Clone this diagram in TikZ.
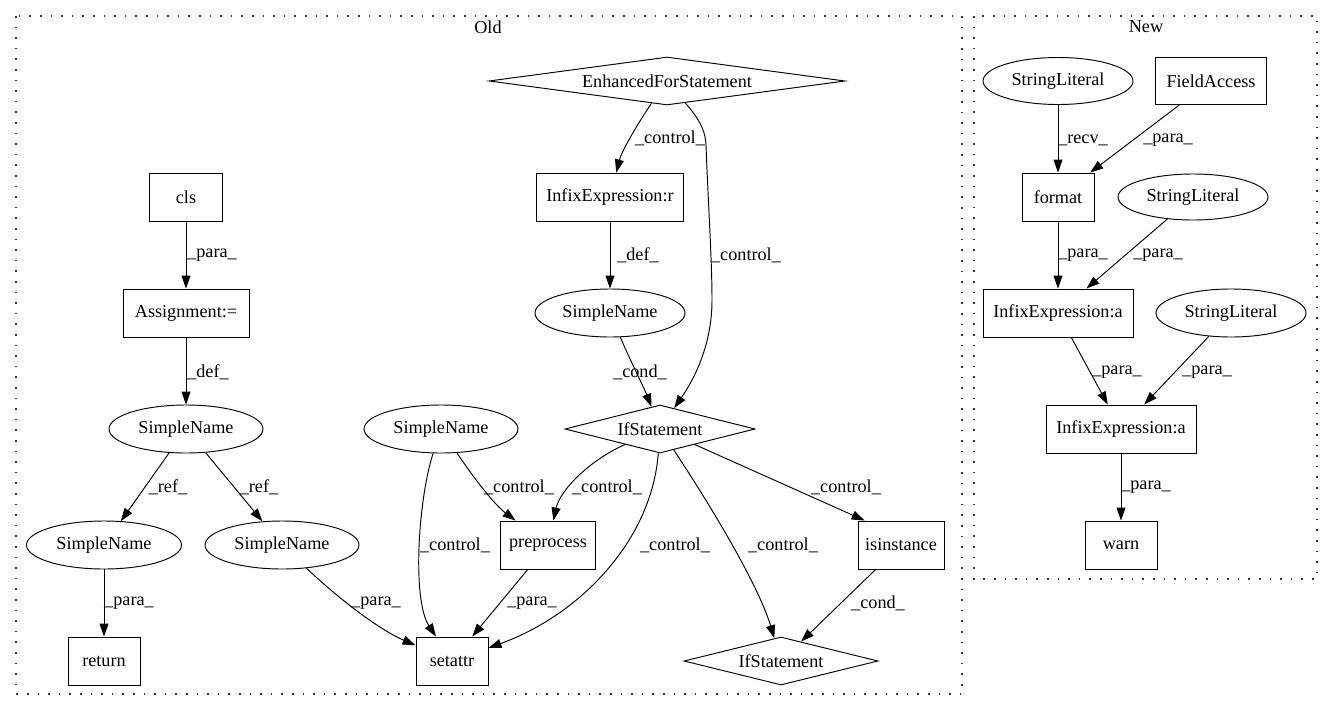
\documentclass[tikz,border=0pt]{standalone}
\usepackage{fontspec}
\setmainfont{Liberation Serif}
\usetikzlibrary{shapes.geometric,arrows.meta}
\begin{document}
\begin{tikzpicture}[x=1pt,y=-1pt,
  every node/.style={font=\fontsize{18.2}{20}\selectfont},
  box/.style={draw, line width=0.95pt, rectangle, minimum height=48pt, inner sep=0pt},
  ell/.style={draw, line width=0.95pt, ellipse, minimum height=48pt, inner sep=0pt},
  dia/.style={draw, line width=0.95pt, diamond, minimum height=48pt, inner sep=0pt},
  lbl/.style={inner sep=0pt},
  edge/.style={draw, line width=0.95pt, -{Triangle[length=13pt,width=9pt]}},
  cluster/.style={draw=black!80, line width=1.6pt, dash pattern=on 1.6pt off 9pt}
]
\useasboundingbox (0,0) rectangle (1333,712);

% clusters
\draw[cluster] (16,16) rectangle (962,694);
\node[lbl] (oldlbl) at (488,27) {Old};
\draw[cluster] (974,16) rectangle (1317,579);
\node[lbl] (newlbl) at (1146,27) {New};

% Old nodes
\node[dia, aspect=7.4, minimum width=356pt] (efs) at (667,81) {EnhancedForStatement};
\node[box, minimum width=147pt] (infr) at (610,197) {InfixExpression:r};
\node[ell, minimum width=150pt] (snm) at (610,313) {SimpleName};
\node[dia, aspect=4, minimum width=190pt] (ifs) at (660,429) {IfStatement};
\node[ell, minimum width=154pt] (snc2) at (441,429) {SimpleName};
\node[box, minimum width=95pt] (pre) at (548,545) {preprocess};
\node[box, minimum width=72pt] (set) at (452,661) {setattr};
\node[dia, aspect=4, minimum width=194pt] (ifs2) at (781,661) {IfStatement};
\node[box, minimum width=86pt] (isi) at (901,545) {isinstance};
\node[box, minimum width=73pt] (cls) at (186,197) {cls};
\node[box, minimum width=126pt] (asg) at (186,313) {Assignment:=};
\node[ell, minimum width=154pt] (sna) at (186,429) {SimpleName};
\node[ell, minimum width=155pt] (snb) at (104,545) {SimpleName};
\node[ell, minimum width=154pt] (snc) at (282,545) {SimpleName};
\node[box, minimum width=72pt] (ret) at (104,661) {return};

% New nodes
\node[ell, minimum width=150pt, minimum height=47pt] (sl1) at (1058,81) {StringLiteral};
\node[box, minimum width=111pt, minimum height=47pt] (fa) at (1211,81) {FieldAccess};
\node[box, minimum width=72pt] (fmt) at (1058,197) {format};
\node[ell, minimum width=150pt, minimum height=46pt] (sl2) at (1193,197) {StringLiteral};
\node[box, minimum width=150pt] (ia1) at (1058,313) {InfixExpression:a};
\node[ell, minimum width=150pt] (sl3) at (1231,313) {StringLiteral};
\node[box, minimum width=150pt] (ia2) at (1121,429) {InfixExpression:a};
\node[box, minimum width=72pt] (warn) at (1121,545) {warn};

% Old edges
\path[edge] (efs) .. controls (640,120) and (622,150) .. (infr);
\node[lbl] (l1) at (670,138) {\_control\_};
\path[edge] (efs) .. controls (698,118) and (705,128) .. (706,145) .. controls (708,200) and (712,260) .. (712,300) .. controls (712,350) and (690,385) .. (ifs);
\node[lbl] (l2) at (746,255) {\_control\_};
\path[edge] (infr) -- (snm);
\node[lbl] (l3) at (638,255) {\_def\_};
\path[edge] (snm) .. controls (630,360) and (645,390) .. (ifs);
\node[lbl] (l4) at (640,372) {\_cond\_};
\path[edge] (ifs) .. controls (590,460) and (560,490) .. (pre);
\node[lbl] (l5) at (607,487) {\_control\_};
\path[edge] (snc2) .. controls (475,480) and (495,505) .. (pre);
\node[lbl] (l6) at (519,487) {\_control\_};
\path[edge] (snc2) .. controls (418,500) and (412,600) .. (set);
\node[lbl] (l7) at (455,545) {\_control\_};
\path[edge] (pre) -- (set);
\node[lbl] (l8) at (532,603) {\_para\_};
\path[edge] (ifs) .. controls (652,540) and (580,615) .. (set);
\node[lbl] (l9) at (675,545) {\_control\_};
\path[edge] (ifs) .. controls (720,520) and (760,590) .. (ifs2);
\node[lbl] (l10) at (783,545) {\_control\_};
\path[edge] (ifs) -- (isi.146);
\node[lbl] (l11) at (846,487) {\_control\_};
\path[edge] (isi) -- (ifs2);
\node[lbl] (l12) at (878,603) {\_cond\_};
\path[edge] (snc) .. controls (340,600) and (380,630) .. (set);
\node[lbl] (l13) at (376,603) {\_para\_};
\path[edge] (cls) -- (asg);
\node[lbl] (l14) at (212,255) {\_para\_};
\path[edge] (asg) -- (sna);
\node[lbl] (l15) at (208,372) {\_def\_};
\path[edge] (sna) -- (snb);
\node[lbl] (l16) at (168,487) {\_ref\_};
\path[edge] (sna) -- (snc);
\node[lbl] (l17) at (259,487) {\_ref\_};
\path[edge] (snb) -- (ret);
\node[lbl] (l18) at (129,603) {\_para\_};

% New edges
\path[edge] (sl1) -- (fmt);
\node[lbl] (l19) at (1083,140) {\_recv\_};
\path[edge] (fa) -- (fmt);
\node[lbl] (l20) at (1168,140) {\_para\_};
\path[edge] (fmt) -- (ia1);
\node[lbl] (l21) at (1083,255) {\_para\_};
\path[edge] (sl2) -- (ia1);
\node[lbl] (l22) at (1158,255) {\_para\_};
\path[edge] (ia1) -- (ia2);
\node[lbl] (l23) at (1117,372) {\_para\_};
\path[edge] (sl3) -- (ia2);
\node[lbl] (l24) at (1207,372) {\_para\_};
\path[edge] (ia2) -- (warn);
\node[lbl] (l25) at (1146,487) {\_para\_};
\end{tikzpicture}
\end{document}
